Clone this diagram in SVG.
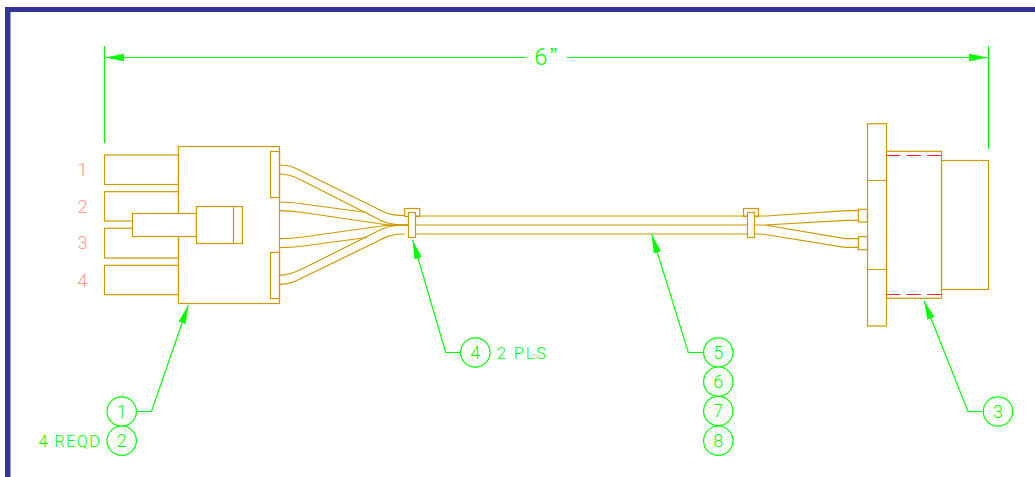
<svg xmlns="http://www.w3.org/2000/svg" width="1035" height="477" viewBox="0 0 1035 477">
<style>
.g{fill:none;stroke:#cc9900;stroke-width:1.2}
.w{fill:none;stroke:#cc9900;stroke-width:1.2;stroke-linejoin:round}
.l{fill:none;stroke:#00ff00;stroke-width:1.2}
.b{fill:#fff;stroke:#00ff00;stroke-width:1.2}
.r{fill:none;stroke:#ff2222;stroke-width:1.2}
text{font-family:"Roboto","Liberation Sans",sans-serif;font-weight:300}
.t{fill:#00ff00;font-size:18px;text-anchor:middle}
.n{fill:#ff9980;font-size:18px;text-anchor:middle}
.s{fill:#00ff00;font-size:16.500px;letter-spacing:1.800px}
</style>
<defs>
<marker id="a" markerUnits="userSpaceOnUse" markerWidth="20" markerHeight="9" refX="19" refY="4" orient="auto" viewBox="0 0 20 8"><path d="M0 0.2L19 4L0 7.8z" fill="#00ff00"/></marker>
</defs>
<rect id="frame" x="5" y="7" width="1030" height="5" fill="#333399"/>
<rect x="5" y="7" width="5.500" height="470" fill="#333399"/>
<g id="connectors">
<path class="w" d="M279.500 165C290 165 296 168 303 172L376 208C385 213 391 215.500 405 215.500"/>
<path class="w" d="M279.500 174C289 174 296 177 303 181L382 221C388 224 394 225 408 225"/>
<path class="w" d="M279.500 202C286 202 296 203 303 204L367 212.500"/>
<path class="w" d="M279.500 210.700C288 210.700 296 211.500 303 212.500L385 224.500L408 225"/>
<path class="w" d="M279.500 238.700C288 238.700 296 238 303 237L385 225.500L408 225"/>
<path class="w" d="M279.500 247.700C286 247.700 296 247 303 246L367 237.500"/>
<path class="w" d="M279.500 275.300C289 275.300 296 272 303 268.500L382 229C388 226 394 225 408 225"/>
<path class="w" d="M279.500 284.300C290 284.300 296 281 303 277.500L376 242C385 237 391 234 405 234"/>
<path class="w" d="M408 216H748M408 225H748M408 234H748"/>
<path class="w" d="M755 216H766L846 210.700H858M755 225H765L846 220.300H858M755 225H765L845 238.700H858M755 234H762L845 247.300H858"/>
<path class="l" d="M104.500 46V143M988.500 46V149"/>
<path class="l" d="M526 57.500H105" marker-end="url(#a)"/>
<path class="l" d="M567 57.500H988" marker-end="url(#a)"/>
<path class="l" d="M136 411.500H151.500L188.300 305" marker-end="url(#a)"/>
<path class="l" d="M460.500 352.500H445.700L412.700 240" marker-end="url(#a)"/>
<path class="l" d="M703.500 352.500H688.300L651.700 234.300" marker-end="url(#a)"/>
<path class="l" d="M983 411.500H968L924 300.700" marker-end="url(#a)"/>
</g>
<g id="connector-left">
<rect class="g" x="104.500" y="155" width="74" height="29.500"/>
<rect class="g" x="104.500" y="191.700" width="74" height="29.300"/>
<rect class="g" x="104.500" y="228.300" width="74" height="29.700"/>
<rect class="g" x="104.500" y="265.300" width="74" height="29.400"/>
<rect class="g" x="178.500" y="146.500" width="101" height="157" fill="#fff"/>
<rect class="g" x="132.500" y="213.500" width="64" height="23" style="fill:#fff"/>
<rect class="g" x="196.500" y="206.500" width="46" height="37" style="fill:#fff"/>
<path class="g" d="M233.500 206.500V243.500"/>
<rect class="g" x="270.500" y="151.500" width="9" height="46"/>
<rect class="g" x="270.500" y="252.500" width="9" height="46"/>
</g>
<g id="clamp-left">
<rect class="g" x="404.700" y="208.500" width="15" height="8"/>
<rect class="g" x="408.500" y="212.500" width="7" height="25" style="fill:#fff"/>
</g>
<g id="clamp-right">
<rect class="g" x="743.500" y="208.500" width="15" height="8"/>
<rect class="g" x="747.500" y="212.500" width="7" height="25" style="fill:#fff"/>
</g>
<g id="connector-right">
<rect class="g" x="858.500" y="209.300" width="9" height="12.700"/>
<rect class="g" x="858.500" y="236.700" width="9" height="13"/>
<rect class="g" x="867.500" y="123.700" width="19" height="202.300"/>
<path class="g" d="M867.500 180.500H886.500M867.500 269.500H886.500"/>
<rect class="g" x="886.500" y="151.300" width="55" height="147"/>
<rect class="g" x="941.500" y="160.500" width="47" height="129"/>
<path class="r" d="M886.500 155.500H900M906.300 155.500H920.700M927 155.500H941M886.500 294.500H900M906.300 294.500H920.700M927 294.500H941"/>
</g>
<g id="dimension"><text class="t" x="541" y="65" style="font-size:24px">6</text><text class="t" x="553.500" y="63" style="font-size:22px;font-family:'Liberation Sans',sans-serif">”</text></g>
<g id="pin-1"><text class="n" x="82.500" y="176">1</text></g>
<g id="pin-2"><text class="n" x="82.500" y="213">2</text></g>
<g id="pin-3"><text class="n" x="82.500" y="249">3</text></g>
<g id="pin-4"><text class="n" x="82.500" y="287">4</text></g>
<g id="balloon-1"><circle class="b" cx="121.700" cy="411.500" r="14.700"/><text class="t" x="121.700" y="417.700">1</text></g>
<g id="balloon-2"><circle class="b" cx="121.700" cy="440.700" r="14.700"/><text class="t" x="121.700" y="446.900">2</text><text class="s" x="38.500" y="446.900" style="letter-spacing:1.300px">4 REQD</text></g>
<g id="balloon-4"><circle class="b" cx="475.300" cy="352.500" r="14.700"/><text class="t" x="475.300" y="358.700">4</text><text class="s" x="497" y="358.700">2 PLS</text></g>
<g id="balloon-5"><circle class="b" cx="718.300" cy="352.500" r="14.700"/><text class="t" x="718.300" y="358.700">5</text></g>
<g id="balloon-6"><circle class="b" cx="718.300" cy="381.700" r="14.700"/><text class="t" x="718.300" y="387.900">6</text></g>
<g id="balloon-7"><circle class="b" cx="718.300" cy="411" r="14.700"/><text class="t" x="718.300" y="417.200">7</text></g>
<g id="balloon-8"><circle class="b" cx="718.300" cy="440.700" r="14.700"/><text class="t" x="718.300" y="446.900">8</text></g>
<g id="balloon-3"><circle class="b" cx="998" cy="411.500" r="14.700"/><text class="t" x="998" y="417.700">3</text></g>
</svg>
